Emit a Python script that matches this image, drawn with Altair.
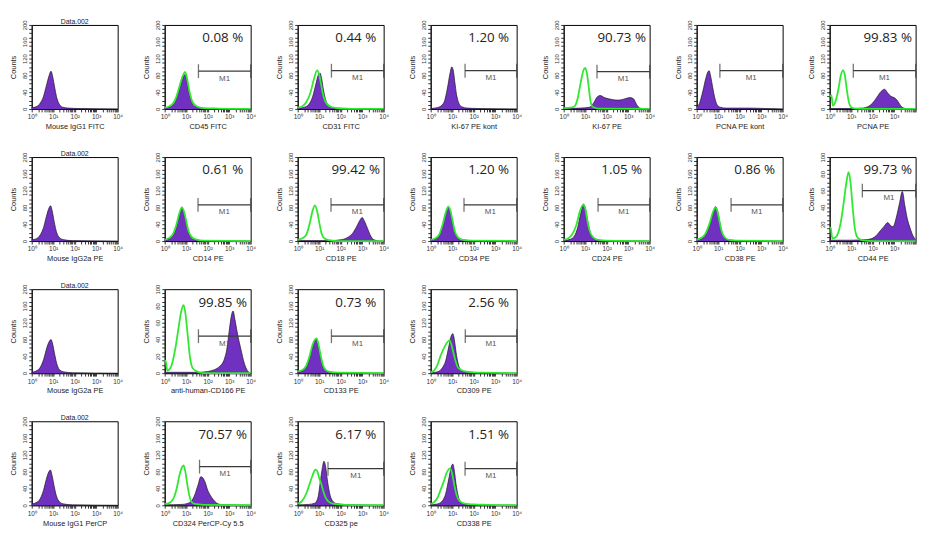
import altair as alt
import pandas as pd
import numpy as np

# ---------------- data: histogram curves as (log10 intensity, counts) ----------------
P_IGG1_FITC = [(0,3),(0.2,5),(0.4,14),(0.55,30),(0.68,55),(0.8,78),(0.9,90),(0.98,76),(1.08,48),(1.18,24),(1.3,10),(1.45,4),(1.7,2),(2.2,1),(4,0)]
P_CD45 = [(0,2),(0.2,4),(0.4,10),(0.55,25),(0.7,50),(0.85,75),(0.95,82),(1.05,62),(1.15,35),(1.3,12),(1.5,4),(1.8,1),(4,0)]
G_CD45 = [(0,3),(0.2,6),(0.4,14),(0.55,30),(0.7,56),(0.85,80),(0.95,88),(1.05,70),(1.15,42),(1.3,16),(1.5,6),(1.8,2),(2.5,1),(4,0)]
P_CD31 = [(0,1),(0.3,4),(0.5,10),(0.7,30),(0.85,60),(0.97,82),(1.05,85),(1.12,70),(1.2,45),(1.3,22),(1.45,8),(1.7,2),(4,0)]
G_CD31 = [(0,3),(0.2,6),(0.4,16),(0.6,40),(0.75,70),(0.9,92),(1.0,82),(1.1,55),(1.2,30),(1.35,12),(1.6,4),(2.0,1),(4,0)]
P_KI67_KONT = [(0,1),(0.3,3),(0.5,8),(0.65,20),(0.78,50),(0.9,85),(0.98,100),(1.05,92),(1.12,65),(1.2,35),(1.3,15),(1.45,5),(1.7,2),(2.2,1),(4,0)]
P_KI67 = [(0,1),(0.8,2),(1.2,4),(1.4,15),(1.55,28),(1.7,32),(1.9,27),(2.1,24),(2.3,22),(2.5,21),(2.7,22),(2.9,25),(3.1,27),(3.25,24),(3.4,10),(3.55,2),(3.8,0),(4,0)]
G_KI67 = [(0,2),(0.3,3),(0.5,6),(0.65,25),(0.8,65),(0.92,92),(1.0,98),(1.08,85),(1.17,50),(1.25,18),(1.35,5),(1.6,1),(4,0)]
P_PCNA_KONT = [(0,6),(0.1,10),(0.2,25),(0.3,45),(0.42,72),(0.52,88),(0.58,91),(0.65,78),(0.75,50),(0.85,25),(0.95,10),(1.1,4),(1.4,2),(2.5,2),(3.2,1),(4,0)]
P_PCNA = [(0,1),(1.0,1),(1.5,2),(1.8,6),(2.0,14),(2.2,28),(2.4,42),(2.55,47),(2.7,38),(2.85,30),(3.0,27),(3.15,20),(3.3,8),(3.45,2),(3.7,0),(4,0)]
G_PCNA = [(0,30),(0.08,32),(0.15,8),(0.25,15),(0.4,45),(0.52,80),(0.62,92),(0.7,82),(0.8,45),(0.9,15),(1.0,4),(1.2,1),(2,0),(4,0)]

P_IGG2A_PE = [(0,3),(0.2,5),(0.4,15),(0.55,32),(0.68,58),(0.8,78),(0.88,84),(0.95,72),(1.05,45),(1.15,22),(1.3,8),(1.5,3),(1.9,1),(4,0)]
P_CD14 = [(0,2),(0.2,5),(0.4,14),(0.55,35),(0.68,62),(0.8,78),(0.9,68),(1.0,45),(1.1,22),(1.25,8),(1.45,3),(1.8,1),(4,0)]
G_CD14 = [(0,3),(0.2,7),(0.4,18),(0.55,40),(0.68,66),(0.8,80),(0.9,70),(1.0,48),(1.1,25),(1.25,10),(1.45,4),(1.8,1),(4,0)]
P_CD18 = [(0,1),(1.5,1),(2.0,3),(2.3,8),(2.55,18),(2.75,35),(2.9,50),(3.0,56),(3.1,48),(3.25,30),(3.4,12),(3.55,3),(3.8,0),(4,0)]
G_CD18 = [(0,3),(0.2,6),(0.4,15),(0.55,40),(0.68,70),(0.8,85),(0.9,72),(1.0,45),(1.1,20),(1.25,6),(1.45,2),(1.8,0),(4,0)]
P_CD34 = [(0,2),(0.2,5),(0.4,14),(0.55,35),(0.7,66),(0.82,80),(0.92,70),(1.02,45),(1.12,22),(1.27,8),(1.5,3),(1.9,1),(4,0)]
G_CD34 = [(0,3),(0.2,6),(0.4,16),(0.55,38),(0.7,68),(0.82,82),(0.92,72),(1.02,48),(1.12,24),(1.27,9),(1.5,3),(1.9,1),(4,0)]
P_CD24 = [(0,1),(0.3,4),(0.5,12),(0.65,32),(0.8,68),(0.92,88),(1.0,80),(1.1,52),(1.2,26),(1.32,10),(1.5,3),(1.9,1),(4,0)]
G_CD24 = [(0,3),(0.2,6),(0.4,16),(0.6,40),(0.75,70),(0.9,86),(1.0,78),(1.1,50),(1.2,26),(1.35,10),(1.6,3),(2.0,1),(4,0)]
P_CD38 = [(0,2),(0.2,5),(0.4,14),(0.6,38),(0.75,66),(0.88,82),(0.97,72),(1.07,46),(1.17,22),(1.3,8),(1.5,3),(1.9,1),(4,0)]
G_CD38 = [(0,3),(0.2,7),(0.4,17),(0.6,42),(0.75,68),(0.88,80),(0.97,70),(1.07,45),(1.17,22),(1.3,9),(1.5,3),(1.9,1),(4,0)]
P_CD44 = [(0,1),(1.0,1),(1.8,2),(2.1,5),(2.35,12),(2.55,18),(2.7,22),(2.85,18),(2.95,17),(3.1,28),(3.25,45),(3.38,59),(3.5,42),(3.6,28),(3.75,15),(3.9,5),(4,2)]
G_CD44 = [(0,15),(0.05,16),(0.12,3),(0.3,5),(0.5,20),(0.65,45),(0.78,70),(0.88,82),(0.97,70),(1.07,40),(1.17,15),(1.3,4),(1.5,1),(2,0),(4,0)]

P_IGG2A_PE_B = [(0,2),(0.2,5),(0.4,14),(0.55,32),(0.7,60),(0.82,76),(0.9,80),(0.98,68),(1.08,42),(1.18,20),(1.32,7),(1.5,3),(1.9,1),(4,0)]
P_CD166 = [(0,1),(1.5,1),(2.0,2),(2.3,4),(2.55,8),(2.75,15),(2.9,30),(3.0,50),(3.1,68),(3.18,74),(3.28,62),(3.4,45),(3.55,28),(3.7,12),(3.85,3),(4,0)]
G_CD166 = [(0,14),(0.04,15),(0.12,3),(0.3,8),(0.5,30),(0.65,55),(0.78,75),(0.88,81),(0.97,70),(1.07,45),(1.17,20),(1.3,6),(1.5,2),(1.8,0),(4,0)]
P_CD133 = [(0,2),(0.2,5),(0.4,14),(0.55,35),(0.68,62),(0.8,78),(0.88,80),(0.97,64),(1.07,38),(1.17,16),(1.3,6),(1.5,2),(1.9,1),(4,0)]
G_CD133 = [(0,4),(0.2,7),(0.4,18),(0.55,40),(0.68,66),(0.8,80),(0.88,83),(0.97,68),(1.07,42),(1.17,20),(1.3,8),(1.5,3),(1.9,1),(4,0)]
P_CD309 = [(0,1),(0.3,3),(0.5,10),(0.7,30),(0.85,65),(0.95,88),(1.03,94),(1.1,80),(1.18,50),(1.28,22),(1.4,8),(1.6,3),(2.0,1),(4,0)]
G_CD309 = [(0,2),(0.15,6),(0.3,18),(0.45,40),(0.6,58),(0.75,72),(0.88,78),(0.95,70),(1.05,50),(1.15,30),(1.25,15),(1.4,8),(1.6,4),(2.0,2),(2.5,1),(4,0)]

P_IGG1_PERCP = [(0,3),(0.2,6),(0.4,16),(0.55,36),(0.68,62),(0.8,80),(0.87,84),(0.95,70),(1.05,44),(1.15,22),(1.3,8),(1.5,3),(1.9,1),(4,0)]
P_CD324 = [(0,1),(0.8,2),(1.1,5),(1.25,10),(1.4,25),(1.55,48),(1.68,68),(1.78,65),(1.88,55),(2.0,36),(2.12,24),(2.25,14),(2.4,6),(2.6,2),(3.0,1),(4,0)]
G_CD324 = [(0,3),(0.2,5),(0.4,15),(0.55,38),(0.68,70),(0.8,90),(0.88,95),(0.96,80),(1.05,50),(1.15,22),(1.25,8),(1.4,3),(1.8,1),(4,0)]
P_CD325 = [(0,1),(0.5,2),(0.8,5),(0.95,20),(1.05,55),(1.15,90),(1.22,105),(1.3,92),(1.38,60),(1.48,30),(1.6,12),(1.8,4),(2.1,2),(2.5,1),(4,0)]
G_CD325 = [(0,4),(0.2,10),(0.4,28),(0.55,50),(0.7,72),(0.82,85),(0.9,82),(1.0,65),(1.1,50),(1.2,32),(1.3,18),(1.45,8),(1.7,3),(2.2,1),(4,0)]
P_CD338 = [(0,1),(0.3,3),(0.5,8),(0.7,28),(0.85,65),(0.95,90),(1.03,98),(1.1,82),(1.18,50),(1.28,22),(1.4,8),(1.6,3),(2.0,1),(4,0)]
G_CD338 = [(0,3),(0.15,7),(0.3,16),(0.45,35),(0.6,55),(0.75,78),(0.9,88),(1.0,75),(1.1,48),(1.2,25),(1.35,10),(1.6,4),(2.0,2),(2.6,1),(4,0)]

# panel definitions: (x-axis label, header, purple, green, gate start (log10), gate level, percent, y max)
PANELS = [
    ("Mouse IgG1 FITC", "Data.002", P_IGG1_FITC, None, None, None, None, 200),
    ("CD45 FITC", None, P_CD45, G_CD45, 1.57, 90, "0.08 %", 200),
    ("CD31 FITC", None, P_CD31, G_CD31, 1.57, 91, "0.44 %", 200),
    ("KI-67 PE kont", None, P_KI67_KONT, None, 1.6, 91, "1.20 %", 200),
    ("KI-67 PE", None, P_KI67, G_KI67, 1.55, 89, "90.73 %", 200),
    ("PCNA PE kont", None, P_PCNA_KONT, None, 1.08, 91, None, 200),
    ("PCNA PE", None, P_PCNA, G_PCNA, 1.1, 91, "99.83 %", 200),
    ("Mouse IgG2a PE", "Data.002", P_IGG2A_PE, None, None, None, None, 200),
    ("CD14 PE", None, P_CD14, G_CD14, 1.55, 86, "0.61 %", 200),
    ("CD18 PE", None, P_CD18, G_CD18, 1.55, 86, "99.42 %", 200),
    ("CD34 PE", None, P_CD34, G_CD34, 1.55, 86, "1.20 %", 200),
    ("CD24 PE", None, P_CD24, G_CD24, 1.6, 86, "1.05 %", 200),
    ("CD38 PE", None, P_CD38, G_CD38, 1.6, 86, "0.86 %", 200),
    ("CD44 PE", None, P_CD44, G_CD44, 1.52, 60, "99.73 %", 100),
    ("Mouse IgG2a PE", "Data.002", P_IGG2A_PE_B, None, None, None, None, 200),
    ("anti-human-CD166 PE", None, P_CD166, G_CD166, 1.57, 44, "99.85 %", 100),
    ("CD133 PE", None, P_CD133, G_CD133, 1.57, 88, "0.73 %", 200),
    ("CD309 PE", None, P_CD309, G_CD309, 1.61, 88, "2.56 %", 200),
    None, None, None,
    ("Mouse IgG1 PerCP", "Data.002", P_IGG1_PERCP, None, None, None, None, 200),
    ("CD324 PerCP-Cy 5.5", None, P_CD324, G_CD324, 1.62, 92, "70.57 %", 200),
    ("CD325 pe", None, P_CD325, G_CD325, 1.41, 87, "6.17 %", 200),
    ("CD338 PE", None, P_CD338, G_CD338, 1.6, 87, "1.51 %", 200),
]

PURPLE = "#7030c0"
GREEN = "#2fe82f"
W, H = 87, 85
FONT = "Liberation Sans"
NCOL = 7

XTICKS = [float(np.log10(k * 10 ** n)) for n in range(4) for k in range(1, 10)] + [4.0]
SUPS = "['\u2070','\u00b9','\u00b2','\u00b3','\u2074']"


def xlabel_expr(last_col):
    cond = "abs(datum.value - round(datum.value)) < 0.001"
    if last_col:
        cond += " && datum.value < 3.5"
    return f"{cond} ? '10' + {SUPS}[round(datum.value)] : ''"


def curve_df(pts):
    return pd.DataFrame(pts, columns=["lx", "c"])


def make_panel(spec, last_col):
    if spec is None:
        return (alt.Chart(pd.DataFrame({"lx": [0]}))
                .mark_point(opacity=0)
                .encode(x=alt.X("lx:Q", axis=None), y=alt.Y("lx:Q", axis=None))
                .properties(width=W, height=H, view=alt.ViewBackground(strokeOpacity=0)))
    label, header, purple, green, g0, gy, pct, ymax = spec
    step = 10 if ymax == 200 else 5
    lab = 40 if ymax == 200 else 20
    xs = alt.Scale(domain=[0, 4], nice=False, zero=False)
    ys = alt.Scale(domain=[0, ymax], nice=False)
    xaxis = alt.Axis(values=XTICKS, labelExpr=xlabel_expr(last_col), title=label, labelFlush=False,
                     labelOverlap=False, tickSize=3, labelPadding=2, titlePadding=2.5, labelFontSize=6.5)
    yaxis = alt.Axis(values=list(range(0, ymax + 1, step)),
                     labelExpr=f"datum.value % {lab} == 0 ? '' + datum.value : ''",
                     title="Counts", labelAngle=270, labelAlign="center", labelBaseline="bottom",
                     labelOverlap=False, labelFlush=False, tickSize=3, labelPadding=1, titlePadding=4)

    def X(f):
        return alt.X(f, type="quantitative", scale=xs, axis=xaxis)

    def Y(f):
        return alt.Y(f, type="quantitative", scale=ys, axis=yaxis)

    layers = [alt.Chart(curve_df(purple)).mark_area(
        color=PURPLE, interpolate="monotone", opacity=1,
        line={"color": "#1a1a1a", "strokeWidth": 0.7}).encode(x=X("lx"), y=Y("c"))]
    if green is not None:
        layers.append(alt.Chart(curve_df(green)).mark_line(
            color=GREEN, strokeWidth=1.8, interpolate="monotone").encode(x=X("lx"), y=Y("c")))
    if g0 is not None:
        gdf = pd.DataFrame({"g0": [g0], "g1": [4.0], "gy": [gy], "mx": [(g0 + 4.0) / 2]})
        tdf = pd.DataFrame({"gx": [g0, 4.0], "gy": [gy, gy]})
        layers.append(alt.Chart(gdf).mark_rule(color="#3a3a3a", strokeWidth=1.3).encode(
            x=X("g0"), x2="g1", y=Y("gy")))
        layers.append(alt.Chart(tdf).mark_tick(orient="vertical", size=14, thickness=1.3, color="#3a3a3a").encode(
            x=X("gx"), y=Y("gy")))
        layers.append(alt.Chart(gdf).mark_text(text="M1", dy=7.5, fontSize=8, color="#555", font=FONT).encode(
            x=X("mx"), y=Y("gy")))
    if pct is not None:
        pdf = pd.DataFrame({"tx": [2.7], "ty": [ymax * 0.84], "t": [pct]})
        layers.append(alt.Chart(pdf).mark_text(fontSize=13.5, font="Open Sans", color="#222").encode(
            x=X("tx"), y=Y("ty"), text="t:N"))
    props = dict(width=W, height=H)
    if header:
        props["title"] = alt.TitleParams(header, fontSize=7, fontWeight="normal", offset=-5, font=FONT,
                                         color="#222")
    return alt.layer(*layers).properties(**props)


panels = [make_panel(p, i % NCOL == NCOL - 1) for i, p in enumerate(PANELS)]

chart = (alt.concat(*panels, columns=NCOL, spacing={"row": 48.7, "column": 47.6}, bounds="flush")
         .properties(padding={"left": 1, "top": 6, "right": -2, "bottom": 0})
         .configure(font=FONT)
         .configure_view(stroke="black", strokeWidth=1)
         .configure_axis(grid=False, labelFontSize=6, titleFontSize=7.5, titleFontWeight="normal",
                         labelColor="#333", titleColor="#222", tickColor="#333", domainColor="#111",
                         labelFont=FONT, titleFont=FONT))

chart.save("out.html", embed_options={"renderer": "svg", "actions": False})
